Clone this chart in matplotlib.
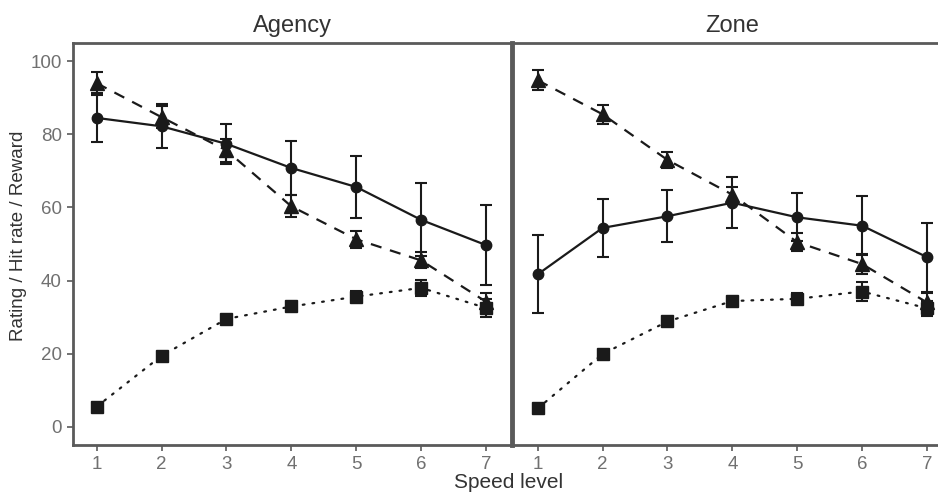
import matplotlib.pyplot as plt

plt.rcParams['font.family'] = ['Liberation Sans', 'DejaVu Sans']

speed = [1, 2, 3, 4, 5, 6, 7]
panels = ['Agency', 'Zone']

# Agency panel
agency_rating = [84.5, 82.2, 77.4, 70.8, 65.6, 56.6, 49.7]
agency_rating_err = [6.7, 6.0, 5.5, 7.5, 8.6, 10.0, 11.0]
agency_hit = [94.0, 84.7, 75.6, 60.3, 51.3, 45.5, 34.2]
agency_hit_err = [3.2, 3.0, 3.2, 3.0, 2.3, 2.2, 2.4]
agency_reward = [5.5, 19.4, 29.5, 32.9, 35.6, 38.0, 32.5]
agency_reward_err = [0.3, 0.3, 0.4, 0.5, 1.5, 2.1, 2.5]

# Zone panel
zone_rating = [41.7, 54.4, 57.6, 61.3, 57.3, 55.0, 46.4]
zone_rating_err = [10.7, 8.0, 7.1, 7.0, 6.6, 8.1, 9.4]
zone_hit = [94.8, 85.5, 73.0, 63.5, 50.5, 44.5, 34.0]
zone_hit_err = [2.7, 2.6, 2.2, 2.2, 2.5, 2.7, 2.5]
zone_reward = [5.0, 19.9, 28.8, 34.4, 35.0, 37.0, 32.4]
zone_reward_err = [0.3, 0.3, 0.4, 0.5, 1.5, 2.6, 2.0]

ink = '#1a1a1a'
spine_col = '#5a5a5a'
tick_col = '#707070'

W, H = 938, 494
fig = plt.figure(figsize=(W / 100, H / 100), dpi=100)
ax1 = fig.add_axes([73 / W, 49 / H, (512 - 73) / W, 402 / H])
# right panel runs past the right edge of the picture (cropped)
ax2 = fig.add_axes([512 / W, 49 / H, (953 - 512) / W, 402 / H], sharey=ax1)
ax2.patch.set_visible(False)

data = [
    (ax1, agency_rating, agency_rating_err, agency_hit, agency_hit_err, agency_reward, agency_reward_err),
    (ax2, zone_rating, zone_rating_err, zone_hit, zone_hit_err, zone_reward, zone_reward_err),
]

for ax, rat, rat_e, hit, hit_e, rew, rew_e in data:
    ax.errorbar(speed, rew, yerr=rew_e, fmt='s', ls=(0, (0.8, 3.6)), lw=1.6,
                color=ink, ms=8.5, capsize=4, capthick=1.5, elinewidth=1.5,
                dash_capstyle='round')
    ax.errorbar(speed, hit, yerr=hit_e, fmt='^', ls=(0, (5, 4)), lw=1.6,
                color=ink, ms=9.5, capsize=4, capthick=1.5, elinewidth=1.5)
    ax.errorbar(speed, rat, yerr=rat_e, fmt='o', ls='-', lw=1.6,
                color=ink, ms=7.5, capsize=4, capthick=1.5, elinewidth=1.5)

ax1.set_xlim(0.635, 7.4)
ax2.set_xlim(0.604, 7.4)
ax1.set_ylim(-5, 105)

for ax, name in zip([ax1, ax2], panels):
    ax.set_xticks(speed)
    ax.set_yticks([0, 20, 40, 60, 80, 100])
    ax.tick_params(colors=spine_col, labelcolor=tick_col, labelsize=13.5,
                   length=4, width=1.2, pad=4)
    ax.set_title(name, fontsize=17, color='#333333', pad=8)
    for s in ax.spines.values():
        s.set_color(spine_col)
        s.set_linewidth(2)

ax1.spines['right'].set_linewidth(3.5)
ax1.spines['right'].set_zorder(5)
ax2.spines['left'].set_visible(False)
ax2.tick_params(axis='y', left=False, labelleft=False)

fig.text(18.5 / W, 1 - 236 / H, 'Rating / Hit rate / Reward', fontsize=13.5,
         color='#333333', rotation=90, ha='center', va='center')
fig.text(509 / W, 1 - 482 / H, 'Speed level', fontsize=15, color='#333333',
         ha='center', va='center')

fig.savefig('out.png', dpi=100)
